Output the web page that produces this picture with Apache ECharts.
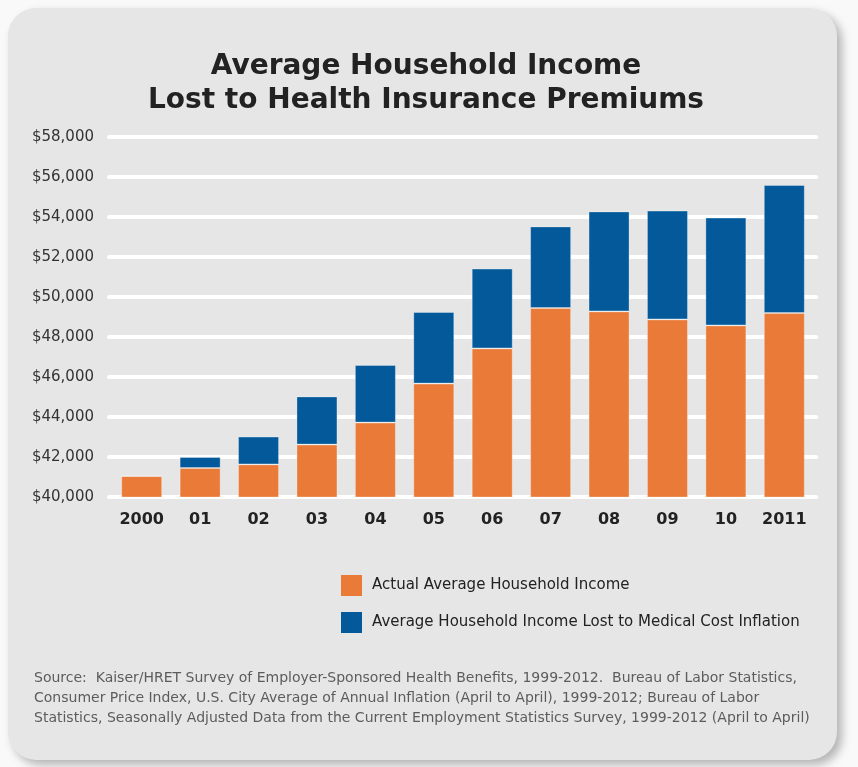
<!DOCTYPE html>
<html>
<head>
<meta charset="utf-8">
<script src="https://cdn.jsdelivr.net/npm/echarts@6/dist/echarts.min.js"></script>
<style>
html,body{margin:0;padding:0;background:#f9f9f9;}
#chart{width:858px;height:767px;}
</style>
</head>
<body>
<div id="chart"></div>
<script>
const categories = ['2000','01','02','03','04','05','06','07','08','09','10','2011'];
const actualIncome = [41050, 41450, 41630, 42620, 43720, 45670, 47430, 49450, 49280, 48880, 48580, 49200];
const lostToMedical = [0, 550, 1390, 2410, 2880, 3580, 3990, 4080, 5000, 5440, 5390, 6400];
const yMin = 40000, yMax = 58000, yStep = 2000;
const seriesNames = ['Actual Average Household Income', 'Average Household Income Lost to Medical Cost Inflation'];
const titleLines = ['Average Household Income', 'Lost to Health Insurance Premiums'];
const sourceLines = [
  'Source:  Kaiser/HRET Survey of Employer-Sponsored Health Benefits, 1999-2012.  Bureau of Labor Statistics,',
  'Consumer Price Index, U.S. City Average of Annual Inflation (April to April), 1999-2012; Bureau of Labor',
  'Statistics, Seasonally Adjusted Data from the Current Employment Statistics Survey, 1999-2012 (April to April)'
];

const chart = echarts.init(document.getElementById('chart'), null, {renderer:'canvas'});
const font = 'DejaVu Sans';
chart.setOption({
  backgroundColor: '#f9f9f9',
  animation: false,
  graphic: [
    {type:'rect', z:-10, shape:{x:8, y:8, width:829, height:752, r:28},
     style:{fill:'#e6e6e6', shadowBlur:10, shadowOffsetX:5, shadowOffsetY:5, shadowColor:'rgba(0,0,0,0.28)'}},
    {type:'text', left:34, top:668, z:10,
     style:{text: sourceLines.join('\n'), font:'14px "DejaVu Sans"', fill:'#5c5c5c', lineHeight:20}}
  ],
  title: {
    text: titleLines.join('\n'),
    left: 421, top: 45, textAlign: 'center',
    textStyle: {fontFamily: font, fontSize: 28, fontWeight: 'bold', color: '#222', lineHeight: 34}
  },
  legend: {
    orient: 'vertical', left: 341, top: 575, padding: 0,
    itemWidth: 21, itemHeight: 21, itemGap: 16, icon: 'rect',
    itemStyle: {borderWidth: 0},
    textStyle: {fontFamily: font, fontSize: 15, color: '#222', padding: [2,0,0,5]},
    data: seriesNames
  },
  grid: [
    {left: 112.5, width: 701, top: 137, height: 360},
    {left: 109, width: 707, top: 137, height: 360}
  ],
  xAxis: [
    {type:'category', gridIndex:0, data: categories,
     axisLine:{show:false}, axisTick:{show:false},
     axisLabel:{fontFamily:font, fontSize:16, fontWeight:'bold', color:'#222', margin:15, lineHeight:16}},
    {type:'value', gridIndex:1, show:false, min:0, max:1}
  ],
  yAxis: [
    {type:'value', gridIndex:0, min:yMin, max:yMax, interval:yStep,
     axisLine:{show:false}, axisTick:{show:false}, axisLabel:{show:false}, splitLine:{show:false}},
    {type:'value', gridIndex:1, min:yMin, max:yMax, interval:yStep, z:0,
     axisLine:{show:false}, axisTick:{show:false},
     axisLabel:{fontFamily:font, fontSize:15, color:'#333', margin:15,
       formatter: v => '$' + v.toLocaleString('en-US')},
     splitLine:{show:true, lineStyle:{color:'#ffffff', width:4, cap:'round'}}}
  ],
  series: [
    {name: seriesNames[0], type:'bar', stack:'total', xAxisIndex:0, yAxisIndex:0, barWidth:41, z:5,
     itemStyle:{color:'#EA7A37', borderColor:'rgba(255,255,255,0.3)', borderWidth:1},
     data: actualIncome},
    {name: seriesNames[1], type:'bar', stack:'total', xAxisIndex:0, yAxisIndex:0, barWidth:41, z:5,
     itemStyle:{color:'#03599A', borderColor:'rgba(255,255,255,0.3)', borderWidth:1},
     data: lostToMedical}
  ]
});
</script>
</body>
</html>
